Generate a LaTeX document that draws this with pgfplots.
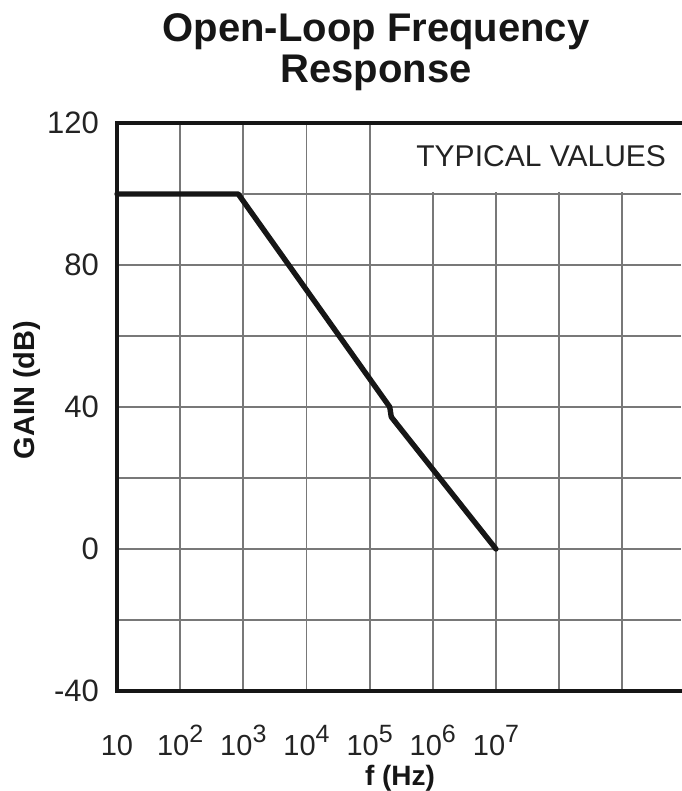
\documentclass[border=0pt]{standalone}
\usepackage{fontspec}
\setmainfont{Liberation Sans}
\usepackage{pgfplots}
\pgfplotsset{compat=1.18}

\definecolor{gridgray}{RGB}{120,120,120}
\definecolor{labelgray}{RGB}{35,35,35}
\definecolor{curveblack}{RGB}{22,22,22}

% exponent set almost at full size, as on the data sheet
\newcommand{\dec}[1]{10\raisebox{0.42em}{\fontsize{12.5}{12.5}\selectfont #1}}

\begin{document}
\begin{tikzpicture}
\begin{axis}[
  at={(0pt,0pt)}, anchor=south west,
  scale only axis,
  width=282pt, height=284pt,
  xmode=log, log basis x=10,
  xmin=10, xmax=8.5e9,
  ymin=-40, ymax=120,
  xtick={1e1,1e2,1e3,1e4,1e5,1e6,1e7,1e8,1e9},
  xticklabels={{10},{\dec{2}},{\dec{3}},{\dec{4}},{\dec{5}},{\dec{6}},{\dec{7}},{},{}},
  ytick={-40,0,40,80,120},
  yticklabels={-40,0,40,80,120},
  minor ytick={-20,20,60,100},
  grid=both,
  major grid style={draw=gridgray, line width=0.9pt},
  minor grid style={draw=gridgray, line width=0.9pt},
  major tick length=0pt, minor tick length=0pt,
  axis line style={draw=none},
  xticklabel style={font=\fontsize{14.5}{14.5}\selectfont, text=labelgray, anchor=base, yshift=-32pt},
  yticklabel style={font=\fontsize{15.5}{15.5}\selectfont, text=labelgray, anchor=east, xshift=-5.5pt},
  clip=false,
]
% blank the grid behind the note in the upper right
\fill[white] (axis cs:1.15e5,100.55) rectangle (axis cs:8.5e9,120);

% open-loop gain, dB
\addplot[curveblack, line width=2.7pt, line join=round, line cap=round] coordinates {
  (10,100)
  (830,100)
  (2.08e5,40)
  (2.2e5,37.2)
  (1e7,0)
};

% frame: left, top and bottom
\draw[curveblack, line width=1.6pt, line cap=rect]
  (rel axis cs:1,1) -- (rel axis cs:0,1) -- (rel axis cs:0,0) -- (rel axis cs:1,0);
\end{axis}

\node[anchor=base east, font=\fontsize{15}{15}\selectfont, text=labelgray] at (278pt,262pt) {TYPICAL VALUES};

\node[anchor=base, font=\fontsize{20}{20}\selectfont\bfseries, text=curveblack] at (129.5pt,324.5pt) {Open-Loop Frequency};
\node[anchor=base, font=\fontsize{20}{20}\selectfont\bfseries, text=curveblack] at (129.5pt,304pt) {Response};

\node[rotate=90, font=\fontsize{14.5}{14.5}\selectfont\bfseries, text=curveblack] at (-45pt,150.5pt) {GAIN (dB)};
\node[font=\fontsize{14}{14}\selectfont\bfseries, text=curveblack] at (141.5pt,-43.5pt) {f (Hz)};

\pgfresetboundingbox
\useasboundingbox (-58.5pt,-50pt) rectangle (282pt,345.5pt);
\end{tikzpicture}
\end{document}
